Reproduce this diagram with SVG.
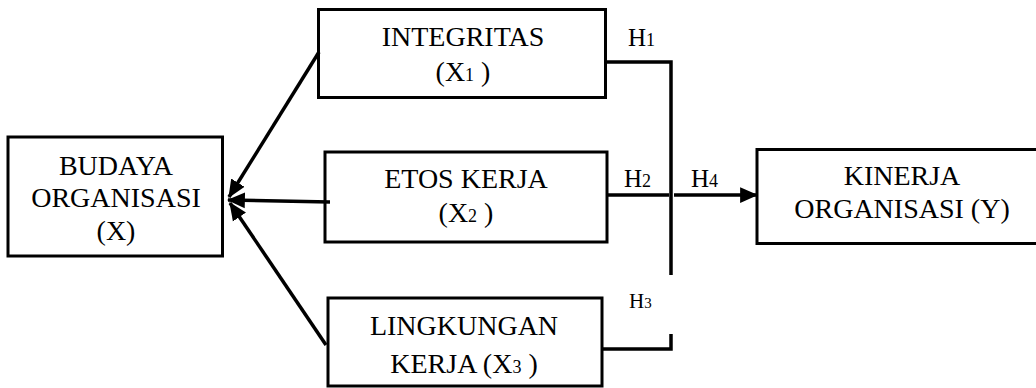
<svg xmlns="http://www.w3.org/2000/svg" width="1036" height="388" viewBox="0 0 1036 388">
<defs>
<style>
.box{fill:#fff;stroke:#000;stroke-width:3}
text{font-family:'Liberation Serif','Times New Roman',serif;fill:#000}
.t{font-size:28px;text-anchor:middle}
.h{font-size:25px}
.sub{font-size:18px}
.ln{fill:none;stroke:#000;stroke-width:3.5}
</style>
<marker id="ah" markerUnits="userSpaceOnUse" markerWidth="18" markerHeight="18" viewBox="0 0 16 16" refX="15" refY="8" orient="auto">
<path d="M0,1 L16,8 L0,15 Z" fill="#000"/>
</marker>
</defs>
<rect width="1036" height="388" fill="#fff"/>
<g id="budaya">
<rect class="box" x="8" y="137" width="214.5" height="119"/>
<text class="t" x="116" y="175">BUDAYA</text>
<text class="t" x="116" y="207">ORGANISASI</text>
<text class="t" x="116" y="240">(X)</text>
</g>
<g id="integritas">
<rect class="box" x="318.5" y="9.5" width="287" height="88"/>
<text class="t" x="463" y="46">INTEGRITAS</text>
<text class="t" x="463" y="81">(X<tspan class="sub">1</tspan> )</text>
</g>
<g id="etos">
<rect class="box" x="325" y="152" width="282" height="90"/>
<text class="t" x="466" y="188">ETOS KERJA</text>
<text class="t" x="466" y="222">(X<tspan class="sub">2</tspan> )</text>
</g>
<g id="lingkungan">
<rect class="box" x="328" y="298" width="274" height="88"/>
<text class="t" x="464" y="335">LINGKUNGAN</text>
<text class="t" x="464" y="373">KERJA (X<tspan class="sub">3</tspan> )</text>
</g>
<g id="kinerja">
<rect class="box" x="757" y="149.5" width="285" height="94"/>
<text class="t" x="902" y="185">KINERJA</text>
<text class="t" x="902" y="218">ORGANISASI (Y)</text>
</g>
<g id="connectors">
<line class="ln" x1="319" y1="52" x2="229" y2="197" marker-end="url(#ah)"/>
<line class="ln" x1="330" y1="202" x2="228" y2="200" marker-end="url(#ah)"/>
<line class="ln" x1="326" y1="345" x2="230" y2="203" marker-end="url(#ah)"/>
<polyline class="ln" points="605,62 671,62 671,275"/>
<line class="ln" x1="607" y1="195" x2="669" y2="195"/>
<line class="ln" x1="674" y1="195" x2="757" y2="195" marker-end="url(#ah)"/>
<polyline class="ln" points="601,349 671,349 671,334"/>
</g>
<g id="labels">
<text class="h" x="628" y="46">H<tspan class="sub">1</tspan></text>
<text class="h" x="624" y="187">H<tspan class="sub">2</tspan></text>
<text class="h" x="691" y="187">H<tspan class="sub">4</tspan></text>
<text x="629" y="308" style="font-size:21px">H<tspan style="font-size:15px">3</tspan></text>
</g>
</svg>
